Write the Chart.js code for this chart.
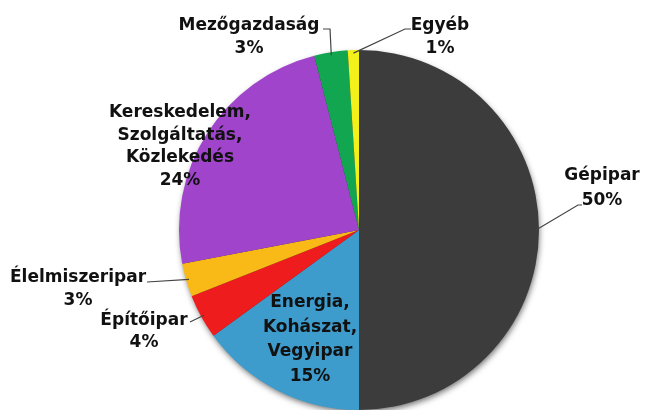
<!DOCTYPE html>
<html>
<head>
<meta charset="utf-8">
<script src="https://cdn.jsdelivr.net/npm/chart.js@4/dist/chart.umd.min.js"></script>
<style>
  html, body { margin: 0; padding: 0; background: #fff; }
  #wrap { width: 648px; height: 410px; }
</style>
</head>
<body>
<div id="wrap"><canvas id="pie" width="648" height="410"></canvas></div>
<script>
// sectors, clockwise from 12 o'clock
const sectors = ["Gépipar", "Energia, Kohászat, Vegyipar", "Építőipar", "Élelmiszeripar",
  "Kereskedelem, Szolgáltatás, Közlekedés", "Mezőgazdaság", "Egyéb"];
const shares = [50, 15, 4, 3, 24, 3, 1];
const sliceColors = ["#3c3c3c", "#3d9ccc", "#ee1c1c", "#f9b916", "#a044cc", "#12a650", "#f4f01a"];

// label text lines
const labelLines = [
  ["Gépipar", "50%"],
  ["Energia,", "Kohászat,", "Vegyipar", "15%"],
  ["Építőipar", "4%"],
  ["Élelmiszeripar", "3%"],
  ["Kereskedelem,", "Szolgáltatás,", "Közlekedés", "24%"],
  ["Mezőgazdaság", "3%"],
  ["Egyéb", "1%"]
];
// label centre x, first baseline y, line gap, leader points from the text side
const labelPos = [
  { x: 602, y: 180, gap: 25, elbow: [[582, 205], [578, 205]] },
  { x: 310, y: 307, gap: 24.5, elbow: null },
  { x: 144, y: 325, gap: 22, elbow: [[190, 322]] },
  { x: 78, y: 282, gap: 23, elbow: [[147, 282]] },
  { x: 180, y: 117, gap: 22.5, elbow: null },
  { x: 249, y: 30, gap: 23, elbow: [[323, 29], [330, 29]] },
  { x: 440, y: 30, gap: 23, elbow: [[411, 29], [405, 29]] }
];

const labelPlugin = {
  id: "labels",
  beforeDatasetsDraw(chart) {
    // soft shadow under the whole disc
    const a = chart.getDatasetMeta(0).data[0];
    const ctx = chart.ctx;
    ctx.save();
    ctx.shadowColor = "rgba(0,0,0,0.6)";
    ctx.shadowBlur = 6;
    ctx.shadowOffsetX = 1;
    ctx.shadowOffsetY = 3;
    ctx.fillStyle = "#333";
    ctx.beginPath();
    ctx.arc(a.x, a.y, a.outerRadius - 1, 0, Math.PI * 2);
    ctx.fill();
    ctx.restore();
  },
  afterDatasetsDraw(chart) {
    const ctx = chart.ctx;
    const arcs = chart.getDatasetMeta(0).data;
    ctx.save();
    // leader lines
    ctx.strokeStyle = "#444";
    ctx.lineWidth = 1.2;
    arcs.forEach((arc, i) => {
      const p = labelPos[i];
      if (!p.elbow) return;
      const mid = (arc.startAngle + arc.endAngle) / 2;
      const ex = arc.x + Math.cos(mid) * (arc.outerRadius - 3);
      const ey = arc.y + Math.sin(mid) * (arc.outerRadius - 3);
      ctx.beginPath();
      ctx.moveTo(p.elbow[0][0], p.elbow[0][1]);
      for (let k = 1; k < p.elbow.length; k++) ctx.lineTo(p.elbow[k][0], p.elbow[k][1]);
      ctx.lineTo(ex, ey);
      ctx.stroke();
    });
    // texts
    ctx.font = "bold 17px 'DejaVu Sans', sans-serif";
    ctx.textAlign = "center";
    ctx.textBaseline = "alphabetic";
    ctx.fillStyle = "#111";
    labelLines.forEach((lines, i) => {
      const p = labelPos[i];
      lines.forEach((t, j) => ctx.fillText(t, p.x, p.y + j * p.gap));
    });
    ctx.restore();
  }
};

new Chart(document.getElementById("pie"), {
  type: "pie",
  data: {
    labels: sectors,
    datasets: [{
      data: shares,
      backgroundColor: sliceColors,
      borderWidth: 0
    }]
  },
  options: {
    responsive: false,
    animation: false,
    layout: { padding: { left: 178, right: 108, top: 50, bottom: 0 } },
    plugins: { legend: { display: false }, tooltip: { enabled: false } }
  },
  plugins: [labelPlugin]
});
</script>
</body>
</html>
